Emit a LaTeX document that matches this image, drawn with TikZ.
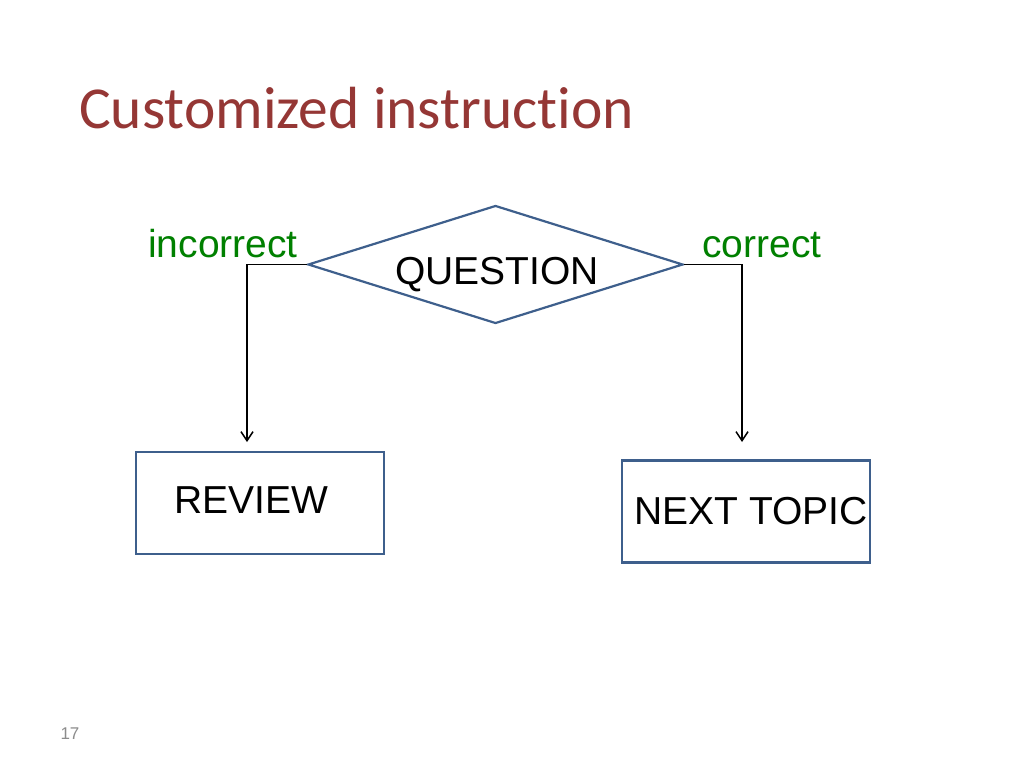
\documentclass[tikz,border=0pt]{standalone}
\usepackage{fontspec}
\setmainfont{Liberation Sans}
\newfontfamily\titlefont[Ligatures={NoCommon,NoRare,NoContextual}]{Carlito}
\usetikzlibrary{shapes.geometric,arrows.meta}
\definecolor{titlered}{HTML}{953735}
\definecolor{boxblue}{HTML}{3E5F8C}
\definecolor{lblgreen}{HTML}{008000}
\definecolor{pgray}{HTML}{8C8C8C}
\begin{document}
\begin{tikzpicture}[x=1pt,y=-1pt,
  boxstyle/.style={draw=boxblue,line width=2.2pt,rectangle,minimum width=248pt,minimum height=102pt,inner sep=0pt},
  txt/.style={font=\fontsize{39}{45}\selectfont,inner sep=0pt},
  lbl/.style={txt,text=lblgreen,anchor=base},
  conn/.style={draw=black,line width=1.5pt,-{Straight Barb[length=9pt,width=12pt,line width=1.5pt]}}]
\useasboundingbox (0,0) rectangle (1024,768);
\fill[white] (0,0) rectangle (1024,768);
\node[anchor=base west,inner sep=0pt,text=titlered,font=\titlefont\fontsize{59.5}{66}\selectfont] (title) at (79,128) {Customized instruction};
\node[diamond,draw=boxblue,line width=2.2pt,minimum width=375pt,minimum height=118pt,aspect=3.18,inner sep=0pt] (q) at (495.5,264.5) {};
\node[txt,anchor=base] (qt) at (497,284) {QUESTION};
\node[boxstyle] (rev) at (260,503) {};
\node[txt,anchor=base] (revt) at (251,513) {REVIEW};
\node[boxstyle] (nxt) at (746,511.5) {};
\node[txt,anchor=base] (nxtt) at (751,524) {NEXT TOPIC};
\node[lbl] (inc) at (223,257) {incorrect};
\node[lbl] (cor) at (762,257) {correct};
\coordinate (a1) at (247,442);
\coordinate (a2) at (742,442);
\draw[conn] (q.west) -| (a1);
\draw[conn] (q.east) -| (a2);
\node[text=pgray,font=\fontsize{17}{20}\selectfont,inner sep=0pt] (pg) at (70,734) {17};
\end{tikzpicture}
\end{document}
